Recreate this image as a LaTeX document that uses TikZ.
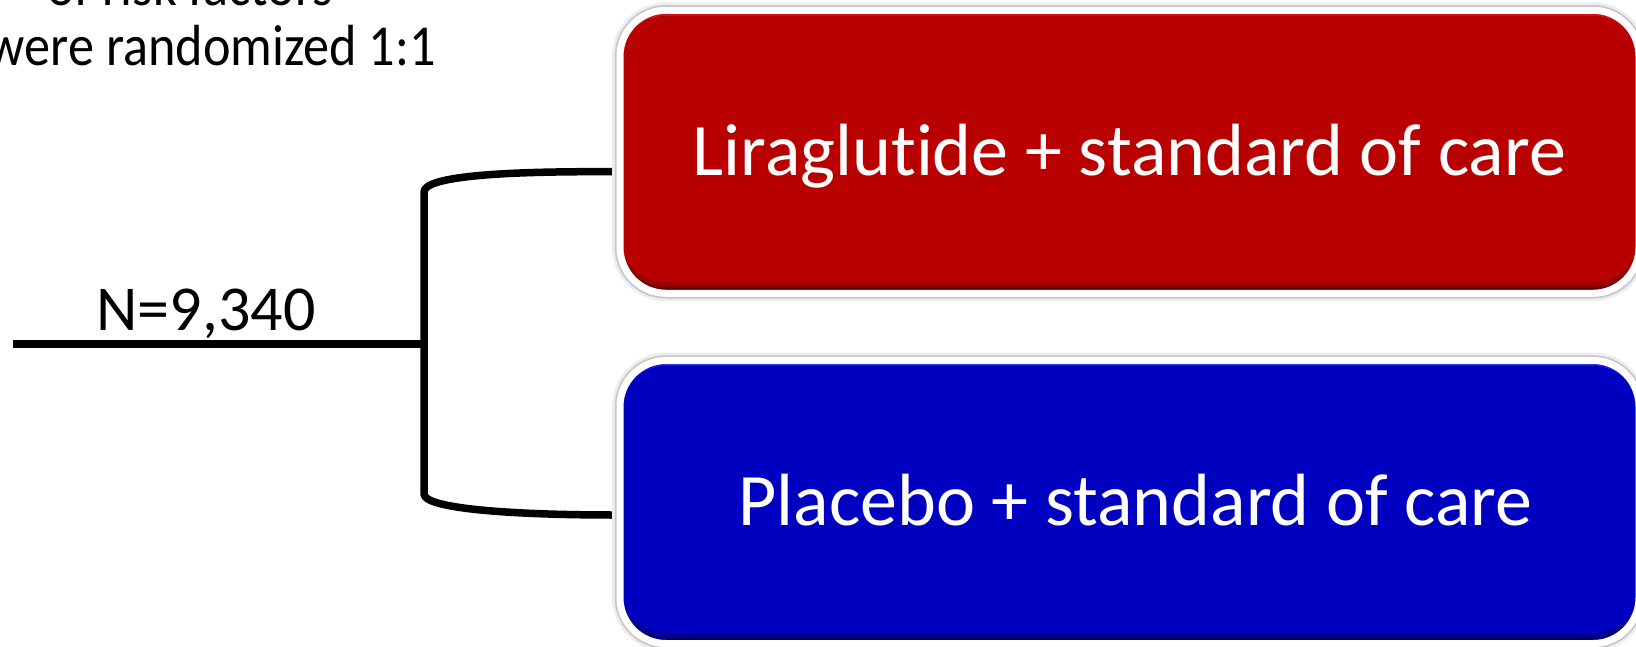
\documentclass[tikz,border=0pt]{standalone}
\usepackage{fontspec}
\setmainfont{Carlito}[Ligatures=NoCommon]
\usetikzlibrary{backgrounds}
\definecolor{armred}{RGB}{185,0,0}
\definecolor{armredhi}{RGB}{214,14,14}
\definecolor{armredmid}{RGB}{150,0,0}
\definecolor{armredlo}{RGB}{100,0,0}
\definecolor{armblue}{RGB}{0,0,192}
\definecolor{armbluehi}{RGB}{16,24,226}
\definecolor{armbluemid}{RGB}{0,0,150}
\definecolor{armbluelo}{RGB}{0,0,100}
\begin{document}
\begin{tikzpicture}[x=1pt,y=-1pt,
  % rounded arm box: #1 top highlight, #2 bottom edge, #3 lower band, #4 face
  armbox/.style n args={4}{
    rounded corners=46pt, minimum width=1019pt, minimum height=283pt,
    inner sep=0pt, draw=white, line width=7pt, fill=#1,
    text=white, font=\fontsize{74}{80}\selectfont,
    text height=47pt, text depth=0pt,
    preaction={draw=black!7, line width=16pt},
    preaction={draw=black!22, line width=10.5pt},
    path picture={
      \coordinate (pa) at (path picture bounding box.north west);
      \coordinate (pb) at (path picture bounding box.south east);
      \fill[#2, rounded corners=46pt] ([yshift=-6pt]pa) rectangle ([yshift=-6pt]pb);
      \fill[#3, rounded corners=46pt] ([yshift=-6pt]pa) rectangle ([yshift=6pt]pb);
      \fill[#4, rounded corners=46pt] ([yshift=-6pt]pa) rectangle ([yshift=11pt]pb);
    }},
  link/.style={draw=black, line width=7.5pt, line join=round},
  lbl/.style={text=black, inner sep=0pt, font=\fontsize{64}{70}\selectfont},
  toptxt/.style={text=black, inner sep=0pt, xscale=0.9,
    font=\fontsize{58}{64}\selectfont}
]
\useasboundingbox (0,0) rectangle (1636,646);
\clip (0,0) rectangle (1636,646);

% heading lines, cut off by the frame
\node[toptxt, anchor=base] (t1) at (190,5) {of risk factors};
\node[toptxt, anchor=base east] (t2) at (436,65) {were randomized 1:1};

% the two treatment arms
\node[armbox={armredhi}{armredlo}{armredmid}{armred}] (lira) at (1129.5,151.75)
  {Liraglutide + standard of care};
\node[armbox={armbluehi}{armbluelo}{armbluemid}{armblue}] (plac) at (1129.5,502)
  {\hspace*{12pt}Placebo + standard of care};

% randomisation bracket
\coordinate (src) at (13,344);
\coordinate (fork) at (424,344);
\coordinate (liraIn) at ([yshift=-20pt]lira.west);
\coordinate (placIn) at ([yshift=-13pt]plac.west);

\node[lbl, anchor=base] (n) at (206,330) {N=9,340};

\begin{scope}[on background layer]
  \draw[link] (src) -- (fork);
  \draw[link] (liraIn) .. controls (505,171) and (424,176) .. (424,192)
    -- (424,494) .. controls (424,508) and (505,515) .. (placIn);
\end{scope}
\end{tikzpicture}
\end{document}
